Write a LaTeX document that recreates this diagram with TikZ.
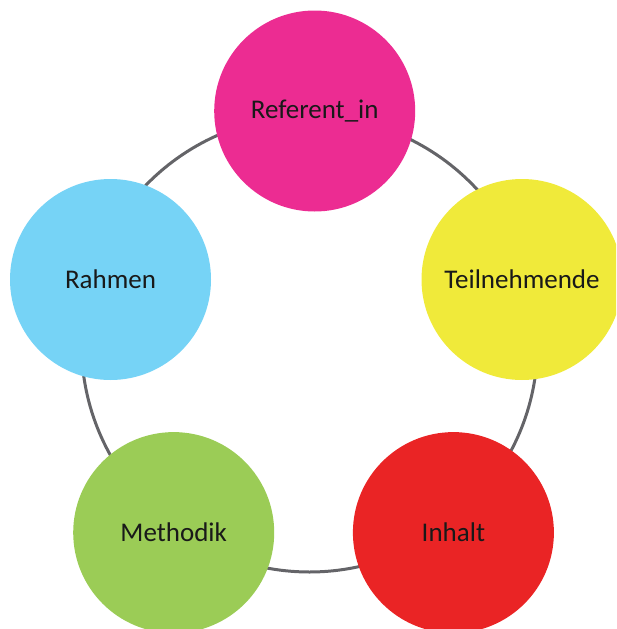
\documentclass[tikz,border=0pt]{standalone}
\usepackage{fontspec}
\setmainfont{Carlito}
\definecolor{cpink}{RGB}{236,44,146}
\definecolor{cyellow}{RGB}{240,234,58}
\definecolor{cred}{RGB}{234,36,37}
\definecolor{cgreen}{RGB}{155,204,86}
\definecolor{cblue}{RGB}{118,211,246}
\definecolor{cring}{RGB}{100,100,104}
\begin{document}
\begin{tikzpicture}[x=1pt,y=-1pt,
  topic/.style={circle,minimum size=201pt,inner sep=0pt,font=\fontsize{27}{31}\selectfont,text=black!90}]
\useasboundingbox (0,0) rectangle (616,629);
\begin{scope}
\clip (0,0) rectangle (616,629);
\draw[cring,line width=3pt] (309.5,344) circle[radius=228];
\node[topic,fill=cpink]   (ref)  at (314.7,111)   {\raisebox{-2pt}{Referent\_in}};
\node[topic,fill=cyellow] (teil) at (522,279.5)   {\raisebox{-2pt}{Teilnehmende}};
\node[topic,fill=cred]    (inh)  at (453.4,532.6) {\raisebox{-2pt}{Inhalt}};
\node[topic,fill=cgreen]  (meth) at (173.7,532.6) {\raisebox{-2pt}{Methodik}};
\node[topic,fill=cblue]   (rahm) at (110.5,279.5) {\raisebox{-2pt}{Rahmen}};
\end{scope}
\end{tikzpicture}
\end{document}
